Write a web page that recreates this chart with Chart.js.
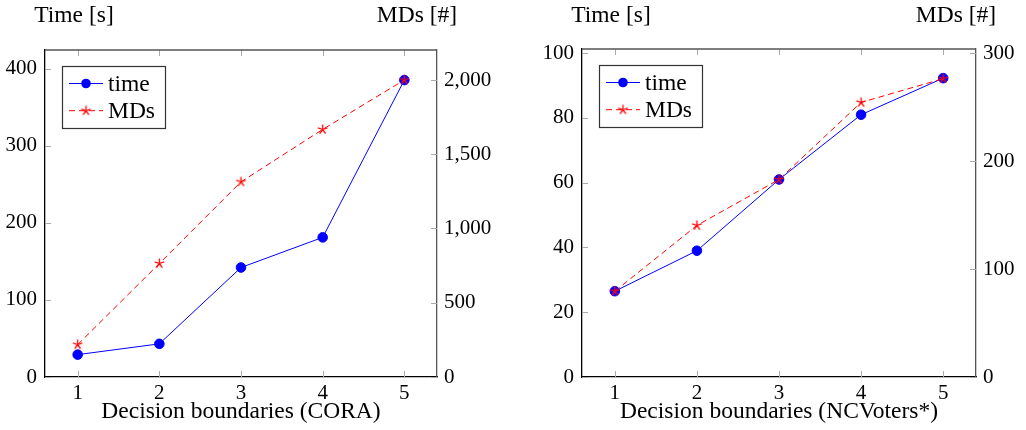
<!DOCTYPE html>
<html lang="en">
<head>
<meta charset="UTF-8">
<title>Decision boundaries: time and MDs</title>
<script src="https://cdn.jsdelivr.net/npm/chart.js"></script>
<style>
  body { margin: 0; background: #fff; }
  .panel { position: absolute; top: 0; width: 513px; height: 430px; }
</style>
</head>
<body>

<div class="panel" style="left:0"><canvas id="coraChart" width="513" height="430"></canvas></div>
<div class="panel" style="left:513px"><canvas id="ncvChart" width="513" height="430"></canvas></div>

<script>
// x: number of decision boundaries
const boundaries = [1, 2, 3, 4, 5];

// CORA
const coraTime = [29, 43, 142, 181, 385];
const coraMDs = [218, 764, 1314, 1667, 2000];
const coraTimeTicks = [0, 100, 200, 300, 400];
const coraMDsTicks = [0, 500, 1000, 1500, 2000];

// NCVoters*
const ncvTime = [26.5, 39, 61, 81, 92.3];
const ncvMDs = [79.5, 140.5, 183, 254.5, 276.5];
const ncvTimeTicks = [0, 20, 40, 60, 80, 100];
const ncvMDsTicks = [0, 100, 200, 300];

const FONT = "'Liberation Serif', 'DejaVu Serif', serif";
const TICK_SIZE = 21;
const TITLE_SIZE = 23.5;

// five-armed asterisk marker for the MDs series
function makeStar(color) {
    const c = document.createElement('canvas');
    c.width = 13;
    c.height = 13;
    const g = c.getContext('2d');
    g.strokeStyle = color;
    g.lineWidth = 1.3;
    g.beginPath();
    for (let k = 0; k < 5; k++) {
        const a = -Math.PI / 2 + k * 2 * Math.PI / 5;
        g.moveTo(6.5, 6.5);
        g.lineTo(6.5 + 5 * Math.cos(a), 6.5 + 5 * Math.sin(a));
    }
    g.stroke();
    return c;
}
const star = makeStar('#ff0000');

// fixed tick positions (the linear scale would otherwise re-space them)
function fixedTicks(values) {
    return scale => { scale.ticks = values.map(v => ({ value: v })); };
}

// top frame edge, inward tick marks, boxed legend and the axis captions
const framePlugin = {
    id: 'frame',
    afterDraw(chart, args, opts) {
        const { ctx, chartArea: a, scales } = chart;
        ctx.save();

        ctx.strokeStyle = '#aaa';
        ctx.lineWidth = 1;
        ctx.beginPath();
        scales.x.ticks.forEach(t => {
            const px = Math.round(scales.x.getPixelForValue(t.value)) + 0.5;
            ctx.moveTo(px, a.top); ctx.lineTo(px, a.top + 6);
            ctx.moveTo(px, a.bottom); ctx.lineTo(px, a.bottom - 6);
        });
        scales.y.ticks.forEach(t => {
            const py = Math.round(scales.y.getPixelForValue(t.value)) + 0.5;
            ctx.moveTo(a.left, py); ctx.lineTo(a.left + 6, py);
        });
        scales.y1.ticks.forEach(t => {
            const py = Math.round(scales.y1.getPixelForValue(t.value)) + 0.5;
            ctx.moveTo(a.right, py); ctx.lineTo(a.right - 6, py);
        });
        ctx.stroke();

        ctx.strokeStyle = '#555';
        ctx.lineWidth = 1.3;
        ctx.beginPath();
        ctx.moveTo(a.left, a.top);
        ctx.lineTo(a.right, a.top);
        ctx.stroke();

        // legend box
        const lx = a.left + 17, ly = a.top + 16;
        ctx.fillStyle = '#fff';
        ctx.fillRect(lx, ly, 103, 62);
        ctx.strokeStyle = '#333';
        ctx.lineWidth = 1.2;
        ctx.strokeRect(lx + 0.5, ly + 0.5, 103, 62);
        ctx.font = TITLE_SIZE + 'px ' + FONT;
        ctx.textBaseline = 'middle';
        ctx.textAlign = 'left';
        chart.data.datasets.forEach((ds, i) => {
            const ry = ly + 17.5 + i * 27.2;
            ctx.strokeStyle = ds.borderColor;
            ctx.lineWidth = 1;
            ctx.setLineDash(ds.borderDash || []);
            ctx.beginPath();
            ctx.moveTo(lx + 7, ry);
            ctx.lineTo(lx + 41, ry);
            ctx.stroke();
            ctx.setLineDash([]);
            if (ds.pointStyle === 'circle') {
                ctx.fillStyle = ds.backgroundColor;
                ctx.beginPath();
                ctx.arc(lx + 24, ry, ds.pointRadius, 0, Math.PI * 2);
                ctx.fill();
            } else {
                ctx.drawImage(ds.pointStyle, lx + 24 - 6.5, ry - 6.5);
            }
            ctx.fillStyle = '#000';
            ctx.fillText(ds.label, lx + 46, ry + 1);
        });

        // captions above the two y axes
        ctx.textAlign = 'center';
        ctx.fillText(opts.leftCaption, a.left + 29, 16);
        ctx.fillText(opts.rightCaption, a.right - 20, 16);

        ctx.restore();
    }
};

function points(values) {
    return boundaries.map((b, i) => ({ x: b, y: values[i] }));
}

function makeChart(id, cfg) {
    const tickFont = { family: FONT, size: TICK_SIZE };
    new Chart(document.getElementById(id), {
        type: 'line',
        data: {
            datasets: [
                {
                    label: 'time',
                    data: points(cfg.time),
                    yAxisID: 'y',
                    borderColor: '#0000ff',
                    backgroundColor: '#0000ff',
                    borderWidth: 1,
                    pointStyle: 'circle',
                    pointRadius: 4.8,
                    pointBorderWidth: 1,
                    order: 1
                },
                {
                    label: 'MDs',
                    data: points(cfg.mds),
                    yAxisID: 'y1',
                    borderColor: '#ff0000',
                    backgroundColor: '#ff0000',
                    borderWidth: 1,
                    borderDash: [6, 4],
                    pointStyle: star,
                    pointRadius: 5,
                    order: 0
                }
            ]
        },
        options: {
            responsive: false,
            animation: false,
            layout: { padding: { top: cfg.top, left: 0, right: 0, bottom: 0 } },
            plugins: {
                legend: { display: false },
                tooltip: { enabled: false },
                frame: { leftCaption: 'Time [s]', rightCaption: 'MDs [#]' }
            },
            scales: {
                x: {
                    type: 'linear',
                    min: 0.6,
                    max: 5.4,
                    afterFit: s => { s.height = 53; },
                    afterBuildTicks: fixedTicks(boundaries),
                    grid: { drawOnChartArea: false, drawTicks: false },
                    border: { color: '#000', width: 1.3 },
                    ticks: {
                        padding: 4,
                        color: '#000',
                        font: tickFont
                    },
                    title: {
                        display: true,
                        text: cfg.xTitle,
                        color: '#000',
                        font: { family: FONT, size: TITLE_SIZE },
                        padding: { top: 0, bottom: 4 }
                    }
                },
                y: {
                    position: 'left',
                    min: 0,
                    max: cfg.yMax,
                    afterFit: s => { s.width = cfg.leftWidth; },
                    afterBuildTicks: fixedTicks(cfg.yTicks),
                    grid: { drawOnChartArea: false, drawTicks: false },
                    border: { color: '#000', width: 1.3 },
                    ticks: {
                        padding: 8,
                        color: '#000',
                        font: tickFont
                    }
                },
                y1: {
                    position: 'right',
                    min: 0,
                    max: cfg.y1Max,
                    afterFit: s => { s.width = cfg.rightWidth; },
                    afterBuildTicks: fixedTicks(cfg.y1Ticks),
                    grid: { drawOnChartArea: false, drawTicks: false },
                    border: { color: '#555', width: 1.3 },
                    ticks: {
                        padding: 7,
                        color: '#000',
                        font: tickFont,
                        callback: v => v.toLocaleString('en-US')
                    }
                }
            }
        },
        plugins: [framePlugin]
    });
}

makeChart('coraChart', {
    time: coraTime,
    mds: coraMDs,
    xTitle: 'Decision boundaries (CORA)',
    top: 50,
    leftWidth: 45,
    rightWidth: 76,
    yMax: 424, yTicks: coraTimeTicks,
    y1Max: 2202, y1Ticks: coraMDsTicks
});

makeChart('ncvChart', {
    time: ncvTime,
    mds: ncvMDs,
    xTitle: 'Decision boundaries (NCVoters*)',
    top: 49,
    leftWidth: 69,
    rightWidth: 50,
    yMax: 101.3, yTicks: ncvTimeTicks,
    y1Max: 304, y1Ticks: ncvMDsTicks
});
</script>

</body>
</html>
